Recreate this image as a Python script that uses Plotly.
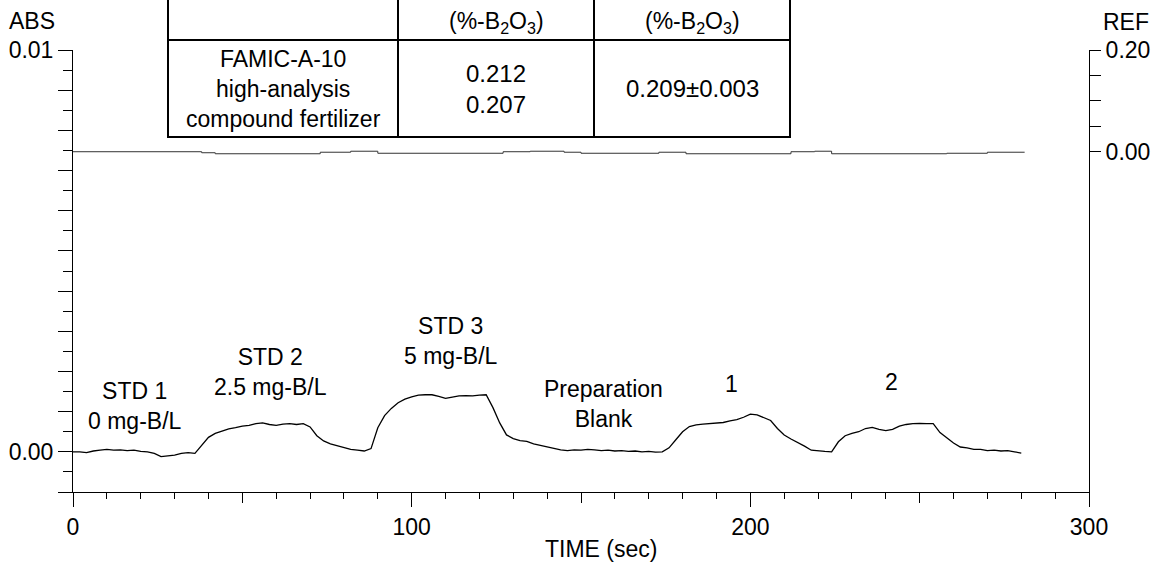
import plotly.graph_objects as go

# ---------------- data ----------------
time_s = list(range(0, 281, 2))
abs_signal = [
    0.00000, 0.00000, -0.00002, 0.00002, 0.00004, 0.00006, 0.00004, 0.00005, 0.00003, 0.00004,
    0.00001, 0.00000, -0.00004, -0.00012, -0.00010, -0.00008, -0.00004, -0.00002, -0.00004, 0.00015,
    0.00036, 0.00046, 0.00052, 0.00057, 0.00060, 0.00064, 0.00066, 0.00070, 0.00072, 0.00068,
    0.00066, 0.00069, 0.00070, 0.00068, 0.00070, 0.00062, 0.00040, 0.00027, 0.00020, 0.00015,
    0.00010, 0.00006, 0.00004, 0.00002, 0.00008, 0.00060, 0.00090, 0.00108, 0.00122, 0.00131,
    0.00137, 0.00141, 0.00142, 0.00142, 0.00138, 0.00133, 0.00136, 0.00139, 0.00140, 0.00139,
    0.00141, 0.00142, 0.00110, 0.00072, 0.00042, 0.00033, 0.00028, 0.00026, 0.00020, 0.00016,
    0.00012, 0.00008, 0.00005, 0.00003, 0.00005, 0.00004, 0.00006, 0.00005, 0.00003, 0.00004,
    0.00002, 0.00003, 0.00001, 0.00002, 0.00000, 0.00001, -0.00001, 0.00000, 0.00010, 0.00030,
    0.00050, 0.00063, 0.00067, 0.00069, 0.00070, 0.00072, 0.00073, 0.00077, 0.00080, 0.00086,
    0.00094, 0.00092, 0.00085, 0.00078, 0.00058, 0.00042, 0.00032, 0.00024, 0.00014, 0.00004,
    0.00002, 0.00001, 0.00000, 0.00025, 0.00040, 0.00046, 0.00050, 0.00058, 0.00061, 0.00056,
    0.00053, 0.00056, 0.00064, 0.00068, 0.00070, 0.00071, 0.00070, 0.00070, 0.00048, 0.00034,
    0.00022, 0.00012, 0.00010, 0.00006, 0.00006, 0.00003, 0.00004, 0.00002, 0.00003, 0.00000,
    -0.00003,
]

ref_time = [0, 38, 42, 73, 82, 90, 127, 135, 145, 150, 173, 181, 212, 219, 224, 258, 270, 281]
ref_signal = [0.000, -0.002, -0.004, -0.001, 0.001, -0.003, 0.000, 0.001, -0.001, -0.003,
              -0.001, -0.004, 0.000, 0.001, -0.004, -0.003, -0.001, -0.001]

abs_label_ticks = [0.000, 0.010]
abs_label_text = ["0.00", "0.01"]
abs_plain_ticks = [-0.001, 0.001, 0.002, 0.003, 0.004, 0.005, 0.006, 0.007, 0.008, 0.009]
ref_label_ticks = [0.00, 0.20]
ref_label_text = ["0.00", "0.20"]
ref_plain_ticks = [0.05, 0.10, 0.15]
time_major = [0, 100, 200, 300]
time_major_text = ["0", "100", "200", "300"]
time_mid = [50, 150, 250]

peak_labels = ["STD 1<br>0 mg-B/L", "STD 2<br>2.5 mg-B/L", "STD 3<br>5 mg-B/L",
               "Preparation<br>Blank", "1", "2"]

table_header = ["", "(%-B<sub>2</sub>O<sub>3</sub>)", "(%-B<sub>2</sub>O<sub>3</sub>)"]
sample_name = "FAMIC-A-10<br>high-analysis<br>compound fertilizer"
results = ["0.212", "0.207"]
mean_result = "0.209±0.003"

# ---------------- layout helpers ----------------
W, H = 1151, 563
ML, MR, MT, MB = 73, 62, 50, 71
PW, PH = W - ML - MR, H - MT - MB
FONT = "Liberation Sans, Arial, sans-serif"
FS = 23


def px(xp):
    return (xp - ML) / PW


def py(yp):
    return (H - MB - yp) / PH


fig = go.Figure()

fig.add_trace(go.Scatter(x=time_s, y=abs_signal, mode="lines",
                         line=dict(color="black", width=1.3), showlegend=False,
                         hoverinfo="skip"))
fig.add_trace(go.Scatter(x=ref_time, y=ref_signal, mode="lines", yaxis="y2",
                         line=dict(color="#333333", width=1, shape="hv"),
                         showlegend=False, hoverinfo="skip"))
for xa, ya in [("x2", "y"), ("x", "y3"), ("x", "y4")]:
    fig.add_trace(go.Scatter(x=[None], y=[None], xaxis=xa, yaxis=ya, showlegend=False,
                             hoverinfo="skip"))

axis_font = dict(family=FONT, size=FS, color="black")
tick_common = dict(showgrid=False, zeroline=False, ticks="outside", tickcolor="black",
                   tickwidth=1, tickmode="array", automargin=False)

fig.update_layout(
    width=W, height=H,
    margin=dict(l=ML, r=MR, t=MT, b=MB, pad=0),
    paper_bgcolor="white", plot_bgcolor="white",
    font=axis_font,
    xaxis=dict(range=[0, 300], showline=True, linecolor="black", linewidth=1,
               ticklen=14, tickvals=time_major, ticktext=time_major_text,
               tickfont=axis_font,
               minor=dict(ticks="outside", dtick=10, tick0=0, ticklen=6,
                          tickcolor="black", tickwidth=1, showgrid=False),
               **tick_common),
    xaxis2=dict(range=[0, 300], overlaying="x", anchor="y", side="bottom",
                showline=False, ticklen=10, tickvals=time_mid, showticklabels=False,
                **tick_common),
    yaxis=dict(range=[-0.001, 0.010], showline=True, linecolor="black", linewidth=1,
               ticklen=14, tickvals=abs_label_ticks, ticktext=abs_label_text,
               tickfont=axis_font,
               minor=dict(ticks="outside", dtick=0.0005, tick0=0, ticklen=9,
                          tickcolor="black", tickwidth=1, showgrid=False),
               **tick_common),
    yaxis3=dict(range=[-0.001, 0.010], overlaying="y", side="left", anchor="x",
                showline=False, ticklen=14, tickvals=abs_plain_ticks,
                showticklabels=False, **tick_common),
    yaxis2=dict(range=[-0.669, 0.20], overlaying="y", side="right", anchor="x",
                showline=True, linecolor="black", linewidth=1, ticklen=11,
                tickvals=ref_label_ticks, ticktext=ref_label_text, tickfont=axis_font,
                **tick_common),
    yaxis4=dict(range=[-0.669, 0.20], overlaying="y", side="right", anchor="x",
                showline=False, ticklen=11, tickvals=ref_plain_ticks,
                showticklabels=False, **tick_common),
)

annotations = []
# axis titles
annotations.append(dict(text="ABS", x=px(32), y=py(21), xref="paper", yref="paper",
                        showarrow=False, font=axis_font, xanchor="center", yanchor="middle"))
annotations.append(dict(text="REF", x=px(1126), y=py(22), xref="paper", yref="paper",
                        showarrow=False, font=axis_font, xanchor="center", yanchor="middle"))
annotations.append(dict(text="TIME (sec)", x=px(601), y=py(549), xref="paper", yref="paper",
                        showarrow=False, font=axis_font, xanchor="center", yanchor="middle"))

# peak labels (data coordinates)
label_pos = [(18.4, 0.00114), (58.3, 0.00198), (111.7, 0.00275),
             (156.5, 0.00118), (194.3, 0.00170), (241.8, 0.00174)]
for txt, (lx, ly) in zip(peak_labels, label_pos):
    annotations.append(dict(text=txt, x=lx, y=ly, xref="x", yref="y", showarrow=False,
                            font=axis_font, xanchor="center", yanchor="middle"))

# table
col_edges = [168, 398, 594, 790]
row_edges = [-6, 40, 137]
shapes = []
for cx in col_edges:
    shapes.append(dict(type="line", xref="paper", yref="paper", x0=px(cx), x1=px(cx),
                       y0=py(row_edges[0]), y1=py(row_edges[-1]),
                       line=dict(color="black", width=2)))
for ry in row_edges[1:]:
    shapes.append(dict(type="line", xref="paper", yref="paper", x0=px(col_edges[0] - 1),
                       x1=px(col_edges[-1] + 1), y0=py(ry), y1=py(ry),
                       line=dict(color="black", width=2)))

centers = [(col_edges[i] + col_edges[i + 1]) / 2 for i in range(3)]
for cx, txt in zip(centers, table_header):
    if txt:
        annotations.append(dict(text=txt, x=px(cx), y=py(22), xref="paper", yref="paper",
                                showarrow=False, font=axis_font, xanchor="center",
                                yanchor="middle"))
row_mid = (row_edges[1] + row_edges[2]) / 2
annotations.append(dict(text=sample_name, x=px(centers[0]), y=py(row_mid), xref="paper",
                        yref="paper", showarrow=False,
                        font=dict(family=FONT, size=23, color="black"),
                        xanchor="center", yanchor="middle"))
annotations.append(dict(text="<br>".join(results), x=px(centers[1]), y=py(row_mid),
                        xref="paper", yref="paper", showarrow=False,
                        font=dict(family=FONT, size=24, color="black"),
                        xanchor="center", yanchor="middle"))
annotations.append(dict(text=mean_result, x=px(centers[2]), y=py(row_mid), xref="paper",
                        yref="paper", showarrow=False,
                        font=dict(family=FONT, size=24, color="black"),
                        xanchor="center", yanchor="middle"))

fig.update_layout(annotations=annotations, shapes=shapes)

fig.write_html("out.html",
               config={"displayModeBar": False, "staticPlot": True},
               post_script="document.body.style.margin='0';"
                           "document.body.style.overflow='hidden';")
